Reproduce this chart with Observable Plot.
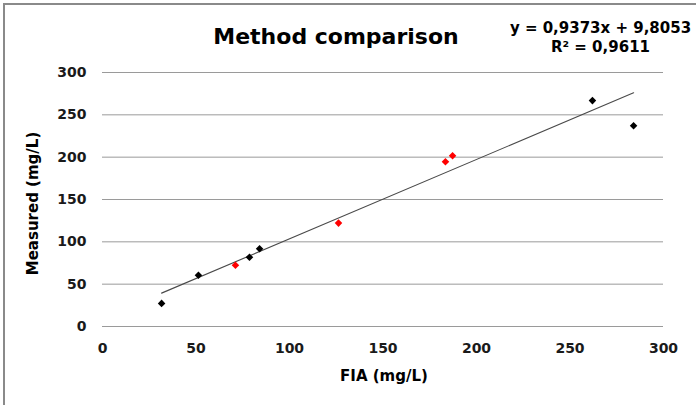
<!DOCTYPE html>
<html>
<head>
<meta charset="utf-8">
<script src="https://cdn.jsdelivr.net/npm/d3@7"></script>
<script src="https://cdn.jsdelivr.net/npm/@observablehq/plot@0.6"></script>
<style>
  html, body { margin: 0; padding: 0; background: #fff; }
  #wrap { position: relative; width: 696px; height: 405px; overflow: hidden; }
  #border { position: absolute; left: 3px; top: 3px; width: 720px; height: 430px; border: 2px solid #8a8a8a; box-sizing: border-box; pointer-events: none; }
</style>
</head>
<body>
<div id="wrap"><div id="border"></div></div>
<script>
const title = "Method comparison";
const equation = "y = 0,9373x + 9,8053";
const rSquared = "R² = 0,9611";
const slope = 0.9373;
const intercept = 9.8053;
const xLabel = "FIA (mg/L)";
const yLabel = "Measured (mg/L)";
const xTicks = [0, 50, 100, 150, 200, 250, 300];
const yTicks = [0, 50, 100, 150, 200, 250, 300];

const fia =      [31.6, 51.3, 71.1, 78.6, 84.0, 126.2, 183.4, 187.2, 262.0, 284.0];
const measured = [27.3, 60.5, 72.3, 81.8, 91.9, 122.1, 194.5, 201.6, 266.8, 237.2];
const group =    ["A",  "A",  "B",  "A",  "A",  "B",   "B",   "B",   "A",   "A"];

const points = fia.map((x, i) => ({x, y: measured[i], g: group[i]}));
const xMin = d3.min(fia), xMax = d3.max(fia);
const trend = [xMin, xMax].map(x => ({x, y: slope * x + intercept}));

const font = "DejaVu Sans, Liberation Sans, Arial, sans-serif";

const chart = Plot.plot({
  width: 696,
  height: 405,
  marginLeft: 102,
  marginRight: 33,
  marginTop: 72,
  marginBottom: 79,
  style: {fontFamily: font, fontWeight: "bold", fontSize: "14px", color: "#1a1a1a", background: "transparent"},
  x: {domain: [0, 300], ticks: xTicks, tickSize: 0, tickPadding: 17, label: null},
  y: {domain: [0, 300], ticks: yTicks, tickSize: 0, tickPadding: 16, label: null},
  color: {domain: ["A", "B"], range: ["#000000", "#ff0000"]},
  marks: [
    Plot.ruleY(yTicks, {stroke: "#9a9a9a", strokeWidth: 1}),
    Plot.line(trend, {x: "x", y: "y", stroke: "#4a4a4a", strokeWidth: 1.1}),
    Plot.dot(points, {x: "x", y: "y", fill: "g", symbol: "diamond2", r: 3.4, stroke: null}),
    Plot.text([title], {frameAnchor: "top", dx: -47, dy: -36, fontSize: 22, fontFamily: font, fontWeight: "bold", fill: "#000", lineAnchor: "middle"}),
    Plot.text([equation], {frameAnchor: "top-right", dx: -63, dy: -44, textAnchor: "middle", fontSize: 15, fontFamily: font, fontWeight: "bold", fill: "#000", lineAnchor: "middle"}),
    Plot.text([rSquared], {frameAnchor: "top-right", dx: -63, dy: -25, textAnchor: "middle", fontSize: 15, fontFamily: font, fontWeight: "bold", fill: "#000", lineAnchor: "middle"}),
    Plot.text([xLabel], {frameAnchor: "bottom", dx: 1, dy: 50, textAnchor: "middle", fontSize: 15, fontFamily: font, fontWeight: "bold", fill: "#000", lineAnchor: "middle"}),
    Plot.text([yLabel], {frameAnchor: "left", dx: -69, dy: 4, rotate: -90, textAnchor: "middle", fontSize: 15, fontFamily: font, fontWeight: "bold", fill: "#000", lineAnchor: "middle"})
  ]
});
chart.style.position = "absolute";
chart.style.left = "0px";
chart.style.top = "0px";
document.getElementById("wrap").appendChild(chart);
</script>
</body>
</html>
